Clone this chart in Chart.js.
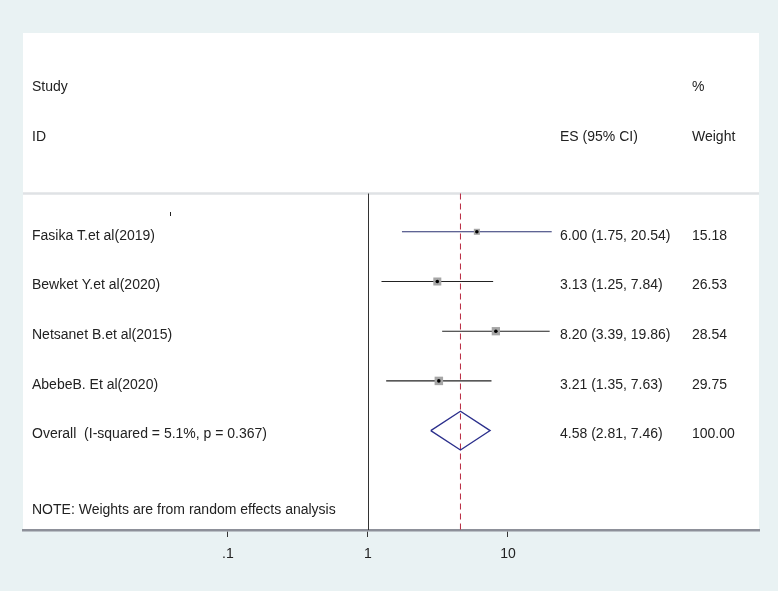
<!DOCTYPE html>
<html>
<head>
<meta charset="utf-8">
<script src="https://cdn.jsdelivr.net/npm/chart.js@4.4.1/dist/chart.umd.min.js"></script>
<style>
  html, body { margin: 0; padding: 0; background: #e9f2f3; }
  #wrap { width: 778px; height: 591px; }
</style>
</head>
<body>
<div id="wrap"><canvas id="forest"></canvas></div>
<script>
// study data
const studies = ['Fasika T.et al(2019)', 'Bewket Y.et al(2020)', 'Netsanet B.et al(2015)', 'AbebeB. Et al(2020)'];
const es = [6.00, 3.13, 8.20, 3.21];
const lower = [1.75, 1.25, 3.39, 1.35];
const upper = [20.54, 7.84, 19.86, 7.63];
const weights = [15.18, 26.53, 28.54, 29.75];

const overallLabel = 'Overall  (I-squared = 5.1%, p = 0.367)';
const overall = { es: 4.58, lower: 2.81, upper: 7.46, weight: 100.00 };

const xTicks = [0.1, 1, 10];
const xTickLabels = ['.1', '1', '10'];

const FONT = '14px "Liberation Sans", Arial, Helvetica, sans-serif';
const TEXT = '#222';

// CI lines, one dataset per study
const ciSets = studies.map((s, i) => ({
    type: 'scatter',
    data: [{ x: lower[i], y: i }, { x: upper[i], y: i }],
    showLine: true,
    borderColor: i === 0 ? '#2a3070' : '#222',
    borderWidth: 1.1,
    pointRadius: 0,
    order: 3
}));

const oRow = studies.length;
const diamond = {
    type: 'scatter',
    data: [
        { x: overall.lower, y: oRow },
        { x: overall.es, y: oRow - 0.39 },
        { x: overall.upper, y: oRow },
        { x: overall.es, y: oRow + 0.39 },
        { x: overall.lower, y: oRow }
    ],
    showLine: true,
    borderColor: '#2b2f8c',
    borderWidth: 1.3,
    pointRadius: 0,
    order: 2
};

// box area follows the study weight
const boxes = {
    type: 'scatter',
    data: es.map((v, i) => ({ x: v, y: i })),
    pointStyle: 'rect',
    pointRadius: ctx => Math.sqrt(weights[ctx.dataIndex]) * 1.1,
    backgroundColor: '#a6a6a6',
    borderWidth: 0,
    order: 1
};

const dots = {
    type: 'scatter',
    data: es.map((v, i) => ({ x: v, y: i })),
    pointRadius: 1.8,
    backgroundColor: '#000',
    borderWidth: 0,
    order: 0
};

const panelPlugin = {
    id: 'panel',
    beforeDraw(chart) {
        const { ctx, chartArea: a } = chart;
        ctx.save();
        ctx.fillStyle = '#e9f2f3';
        ctx.fillRect(0, 0, chart.width, chart.height);
        ctx.fillStyle = '#fff';
        ctx.fillRect(a.left, a.top, a.right - a.left, a.bottom - a.top);
        ctx.restore();
    },
    beforeDatasetsDraw(chart) {
        const { ctx, chartArea: a, scales: { x, y } } = chart;
        const top = y.getPixelForValue(-0.77);
        ctx.save();
        // header separator
        ctx.strokeStyle = '#dfe2e5';
        ctx.lineWidth = 2.5;
        ctx.beginPath();
        ctx.moveTo(a.left, top);
        ctx.lineTo(a.right, top);
        ctx.stroke();
        // line of no effect
        const x1 = Math.round(x.getPixelForValue(1)) + 0.5;
        ctx.strokeStyle = '#333';
        ctx.lineWidth = 1;
        ctx.beginPath();
        ctx.moveTo(x1, top);
        ctx.lineTo(x1, a.bottom);
        ctx.stroke();
        // overall estimate
        ctx.strokeStyle = '#b8283f';
        ctx.lineWidth = 1;
        ctx.setLineDash([6, 4]);
        ctx.beginPath();
        ctx.moveTo(x.getPixelForValue(overall.es), top);
        ctx.lineTo(x.getPixelForValue(overall.es), a.bottom);
        ctx.stroke();
        ctx.restore();
    },
    afterDatasetsDraw(chart) {
        const { ctx, scales: { y } } = chart;
        const colL = 32, colES = 560, colW = 692;
        ctx.save();
        ctx.font = FONT;
        ctx.fillStyle = TEXT;
        ctx.textBaseline = 'middle';
        ctx.textAlign = 'left';
        ctx.fillText('Study', colL, 87);
        ctx.fillText('%', colW, 87);
        ctx.fillText('ID', colL, 137);
        ctx.fillText('ES (95% CI)', colES, 137);
        ctx.fillText('Weight', colW, 137);
        studies.forEach((s, i) => {
            const py = y.getPixelForValue(i) + 4;
            ctx.fillText(s, colL, py);
            ctx.fillText(`${es[i].toFixed(2)} (${lower[i].toFixed(2)}, ${upper[i].toFixed(2)})`, colES, py);
            ctx.fillText(weights[i].toFixed(2), colW, py);
        });
        const oy = y.getPixelForValue(oRow) + 4;
        ctx.fillText(overallLabel, colL, oy);
        ctx.fillText(`${overall.es.toFixed(2)} (${overall.lower.toFixed(2)}, ${overall.upper.toFixed(2)})`, colES, oy);
        ctx.fillText(overall.weight.toFixed(2), colW, oy);
        ctx.fillText('NOTE: Weights are from random effects analysis', colL, 510);
        // stray mark in the original
        ctx.fillRect(170, 212, 1, 4);
        ctx.restore();
    }
};

new Chart(document.getElementById('forest'), {
    data: { datasets: [...ciSets, diamond, boxes, dots] },
    options: {
        responsive: true,
        maintainAspectRatio: false,
        animation: false,
        layout: { padding: { left: 23, right: 19, top: 33, bottom: 0 } },
        plugins: { legend: { display: false }, tooltip: { enabled: false } },
        scales: {
            x: {
                type: 'logarithmic',
                min: 0.00344,
                max: 621,
                afterBuildTicks: s => { s.ticks = xTicks.map(v => ({ value: v })); },
                afterFit: s => { s.height = 61; },
                ticks: {
                    autoSkip: false,
                    maxRotation: 0,
                    padding: 9,
                    color: TEXT,
                    font: { family: '"Liberation Sans", Arial, sans-serif', size: 14 },
                    callback: (v) => {
                        const i = xTicks.indexOf(v);
                        return i >= 0 ? xTickLabels[i] : '';
                    }
                },
                grid: { drawOnChartArea: false, drawTicks: true, tickLength: 7, color: '#333', lineWidth: 1 },
                border: { display: true, color: '#8d9099', width: 2.5 }
            },
            y: {
                type: 'linear',
                display: false,
                reverse: true,
                min: -4,
                max: 6
            }
        }
    },
    plugins: [panelPlugin]
});
</script>
</body>
</html>
